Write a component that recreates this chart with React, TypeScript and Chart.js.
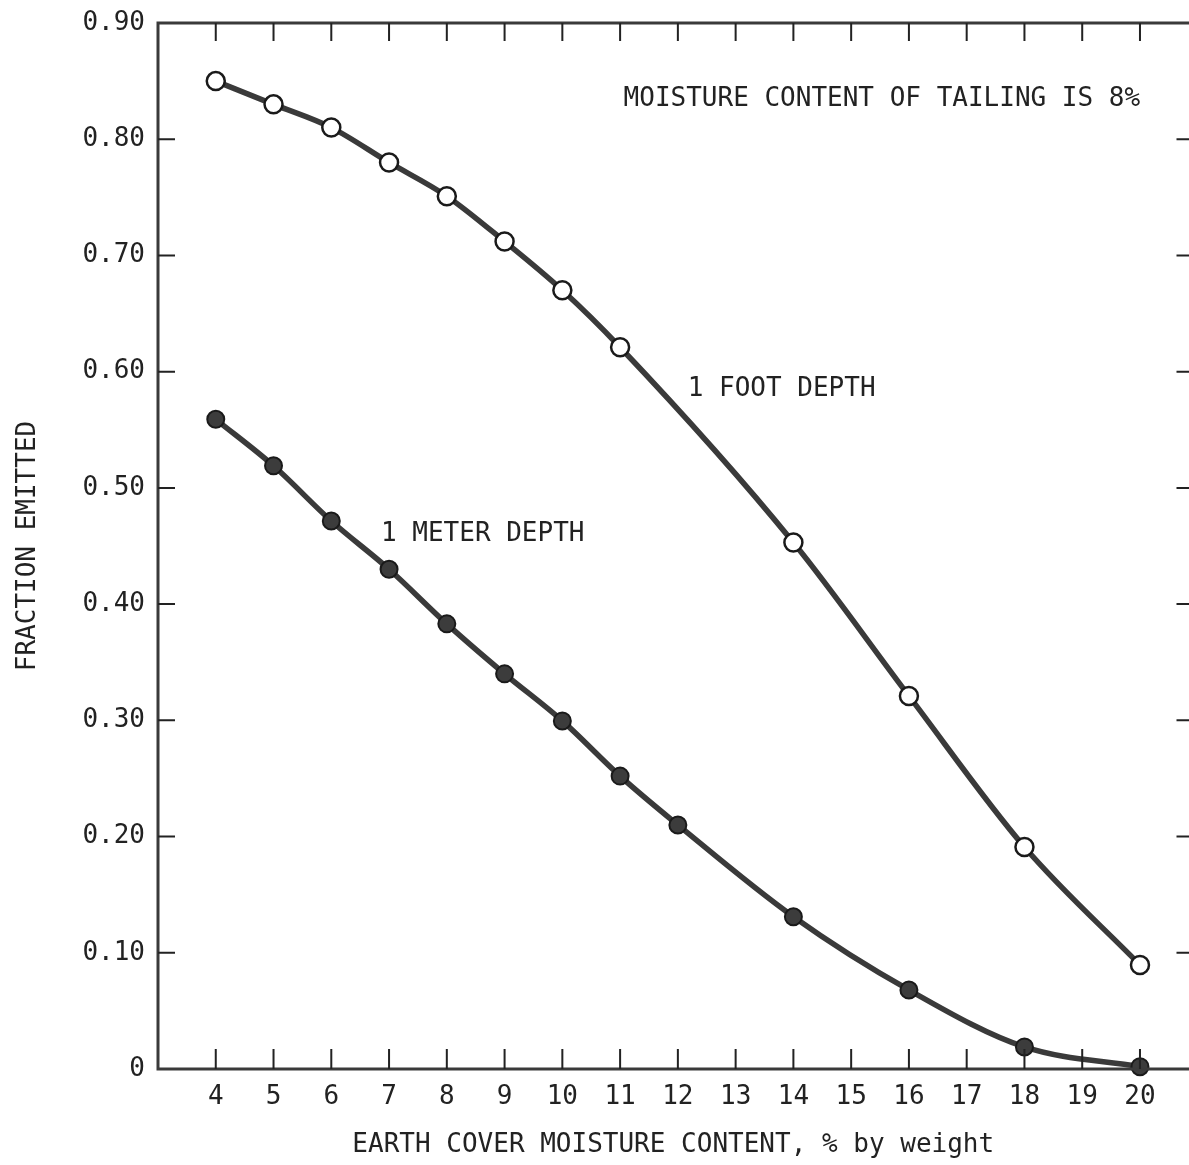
import React, { useEffect, useRef } from 'react';
import { Chart, registerables } from 'chart.js';

Chart.register(...registerables);

// ---- data ----
const moistureFoot = [4, 5, 6, 7, 8, 9, 10, 11, 14, 16, 18, 20];
const fractionFoot = [0.85, 0.83, 0.81, 0.78, 0.751, 0.712, 0.67, 0.621, 0.453, 0.321, 0.191, 0.0895];

const moistureMeter = [4, 5, 6, 7, 8, 9, 10, 11, 12, 14, 16, 18, 20];
const fractionMeter = [0.559, 0.519, 0.4715, 0.43, 0.383, 0.34, 0.2995, 0.252, 0.21, 0.131, 0.068, 0.019, 0.002];

const xTickValues = [4, 5, 6, 7, 8, 9, 10, 11, 12, 13, 14, 15, 16, 17, 18, 19, 20];
const yInnerTickValues = [0.1, 0.2, 0.3, 0.4, 0.5, 0.6, 0.7, 0.8];

const xTitle = 'EARTH COVER MOISTURE CONTENT, % by weight';
const yTitle = 'FRACTION EMITTED';
const noteText = 'MOISTURE CONTENT OF TAILING IS 8%';
const footLabel = '1 FOOT DEPTH';
const meterLabel = '1 METER DEPTH';

const FONT = "'DejaVu Sans Mono', 'Liberation Mono', monospace";
const INK = '#222';

const framePlugin = {
  id: 'frameAndNotes',
  afterDatasetsDraw(chart: any) {
    const { ctx, chartArea, scales } = chart;
    const { left, right, top, bottom } = chartArea;
    const xs = scales.x;
    const ys = scales.y;
    ctx.save();
    // frame
    ctx.strokeStyle = '#3a3a3a';
    ctx.lineWidth = 3;
    ctx.beginPath();
    ctx.moveTo(right + 5, top);
    ctx.lineTo(left, top);
    ctx.lineTo(left, bottom);
    ctx.lineTo(right + 5, bottom);
    ctx.stroke();
    // ticks
    ctx.strokeStyle = INK;
    ctx.lineWidth = 2;
    ctx.beginPath();
    xTickValues.forEach((v) => {
      const px = xs.getPixelForValue(v);
      ctx.moveTo(px, top);
      ctx.lineTo(px, top + 18);
      ctx.moveTo(px, bottom);
      ctx.lineTo(px, bottom - 20);
    });
    yInnerTickValues.forEach((v) => {
      const py = ys.getPixelForValue(v);
      ctx.moveTo(left, py);
      ctx.lineTo(left + 17, py);
      ctx.moveTo(right + 3, py);
      ctx.lineTo(right - 12, py);
    });
    ctx.stroke();
    // annotations
    ctx.fillStyle = INK;
    ctx.font = `26px ${FONT}`;
    ctx.textAlign = 'left';
    ctx.textBaseline = 'middle';
    ctx.fillText(noteText, xs.getPixelForValue(11.06), ys.getPixelForValue(0.834));
    ctx.fillText(footLabel, xs.getPixelForValue(12.17), ys.getPixelForValue(0.585));
    ctx.fillText(meterLabel, xs.getPixelForValue(6.86), ys.getPixelForValue(0.46));
    ctx.restore();
  },
};

export default function App() {
  const ref = useRef<HTMLCanvasElement>(null);

  useEffect(() => {
    if (!ref.current) return;
    const font = { family: FONT, size: 26 };
    const chart = new Chart(ref.current, {
      type: 'line',
      data: {
        datasets: [
          {
            label: footLabel,
            data: moistureFoot.map((x, i) => ({ x, y: fractionFoot[i] })),
            borderColor: '#3a3a3a',
            borderWidth: 5.5,
            cubicInterpolationMode: 'monotone',
            pointRadius: 9,
            pointBorderWidth: 2.5,
            pointBackgroundColor: '#ffffff',
            pointBorderColor: '#1a1a1a',
            clip: false,
          } as any,
          {
            label: meterLabel,
            data: moistureMeter.map((x, i) => ({ x, y: fractionMeter[i] })),
            borderColor: '#3a3a3a',
            borderWidth: 5.5,
            cubicInterpolationMode: 'monotone',
            pointRadius: 8.5,
            pointBorderWidth: 2,
            pointBackgroundColor: '#3c3c3c',
            pointBorderColor: '#1a1a1a',
            clip: false,
          } as any,
        ],
      },
      options: {
        animation: false,
        responsive: false,
        layout: { padding: { top: 23, right: 3, left: 0, bottom: 0 } },
        plugins: { legend: { display: false }, tooltip: { enabled: false } },
        scales: {
          x: {
            type: 'linear',
            min: 3,
            max: 20.84,
            afterFit: (s: any) => {
              s.height = 96;
              s.paddingLeft = 0;
              s.paddingRight = 0;
            },
            grid: { display: false, drawTicks: false },
            border: { display: false },
            ticks: {
              stepSize: 1,
              includeBounds: false,
              autoSkip: false,
              maxRotation: 0,
              padding: 13,
              color: INK,
              font,
              callback: (v: any) => (v >= 4 && v <= 20 ? String(v) : ''),
            },
            title: {
              display: true,
              text: xTitle,
              color: INK,
              font,
              padding: { top: 0, bottom: 4 },
            },
          },
          y: {
            type: 'linear',
            min: 0,
            max: 0.9,
            afterFit: (s: any) => {
              s.width = 158;
              s.paddingTop = 0;
              s.paddingBottom = 0;
            },
            grid: { display: false, drawTicks: false },
            border: { display: false },
            ticks: {
              stepSize: 0.1,
              padding: 13,
              color: INK,
              font,
              callback: (v: any) => (Math.abs(v) < 1e-9 ? '0' : Number(v).toFixed(2)),
            },
            title: {
              display: true,
              text: yTitle,
              color: INK,
              font,
              padding: { top: 13, bottom: 0 },
            },
          },
        },
      },
      plugins: [framePlugin],
    } as any);
    return () => chart.destroy();
  }, []);

  return (
    <div
      style={{
        position: 'absolute',
        left: 0,
        top: 0,
        width: 1189,
        height: 1165,
        overflow: 'hidden',
        background: '#ffffff',
      }}
    >
      <canvas ref={ref} width={1200} height={1165} style={{ display: 'block' }} />
    </div>
  );
}
